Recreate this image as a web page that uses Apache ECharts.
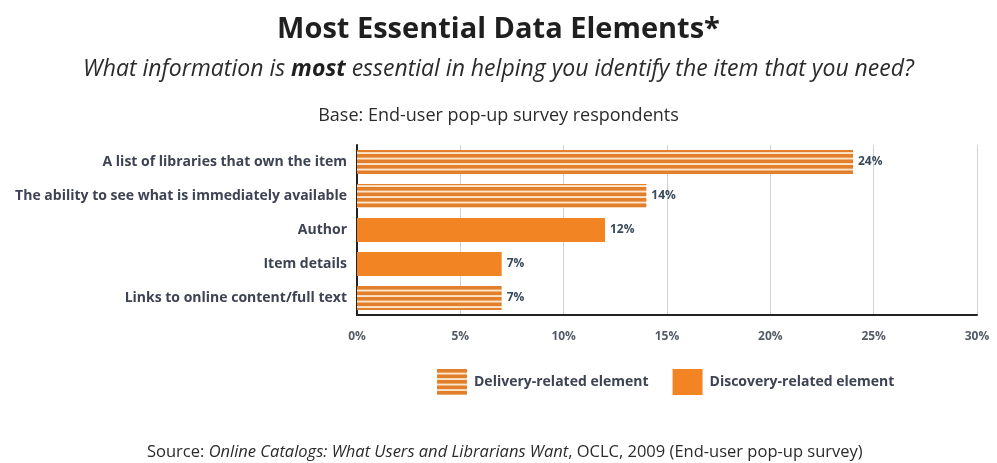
<!DOCTYPE html>
<html>
<head>
<meta charset="utf-8">
<script src="https://cdn.jsdelivr.net/npm/echarts@6/dist/echarts.min.js"></script>
<style>
  html, body { margin: 0; padding: 0; background: #fff; }
  #chart { width: 997px; height: 463px; }
</style>
</head>
<body>
<div id="chart"></div>
<script>
// Survey answers, listed top to bottom
const categories = [
  'A list of libraries that own the item',
  'The ability to see what is immediately available',
  'Author',
  'Item details',
  'Links to online content/full text'
];
// Share of respondents (%) per element type; null where the element belongs to the other type
const deliveryValues = [24, 14, null, null, 7];
const discoveryValues = [null, null, 12, 7, null];
const tickValues = [0, 5, 10, 15, 20, 25, 30];

const ORANGE = '#F28424';
const STRIPE_DARK = '#E17F2C';
const STRIPE_LIGHT = '#FCE6CB';

// Horizontal stripe fill used for delivery-related bars
function stripePattern() {
  const c = document.createElement('canvas');
  c.width = 8; c.height = 11;
  const g = c.getContext('2d');
  g.fillStyle = STRIPE_LIGHT;
  g.fillRect(0, 0, 8, 11);
  g.fillStyle = STRIPE_DARK;
  g.fillRect(0, 0, 8, 3.6);
  g.fillRect(0, 5.5, 8, 3.6);
  return { image: c, repeat: 'repeat' };
}

const FONT = 'Open Sans';
const TEXT = '#2b2b2b';
const LABEL = '#3d4352';
const chart = echarts.init(document.getElementById('chart'));
chart.setOption({
  backgroundColor: '#fff',
  animation: false,
  title: [
    {
      text: 'Most Essential Data Elements*',
      left: 'center', top: 10,
      textStyle: { fontFamily: FONT, fontSize: 29, fontWeight: 'bold', color: '#1f1f1f' }
    },
    {
      text: '{a|What information is }{b|most}{a| essential in helping you identify the item that you need?}',
      left: 'center', top: 53,
      textStyle: {
        fontWeight: 'normal',
        rich: {
          a: { fontFamily: FONT, fontSize: 23, fontStyle: 'italic', fontWeight: 'normal', color: TEXT },
          b: { fontFamily: FONT, fontSize: 23, fontStyle: 'italic', fontWeight: 'bold', color: '#1f1f1f' }
        }
      }
    },
    {
      text: 'Base: End-user pop-up survey respondents',
      left: 'center', top: 102,
      textStyle: { fontFamily: FONT, fontSize: 18, fontWeight: 'normal', color: TEXT }
    },
    {
      text: '{n|Source: }{i|Online Catalogs: What Users and Librarians Want}{n|, OCLC, 2009 (End-user pop-up survey)}',
      left: 142, top: 439,
      textStyle: {
        fontWeight: 'normal',
        rich: {
          n: { fontFamily: FONT, fontSize: 16.5, fontWeight: 'normal', color: TEXT },
          i: { fontFamily: FONT, fontSize: 16.5, fontStyle: 'italic', fontWeight: 'normal', color: TEXT }
        }
      }
    }
  ],
  legend: {
    left: 432, top: 364,
    icon: 'rect',
    itemWidth: 30, itemHeight: 26, itemGap: 24,
    textStyle: { fontFamily: FONT, fontSize: 14, fontWeight: 'bold', color: LABEL, padding: [0, 0, 0, 2] },
    data: ['Delivery-related element', 'Discovery-related element']
  },
  grid: { left: 357, right: 20, top: 145, height: 170, containLabel: false },
  xAxis: {
    type: 'value', min: 0, max: 30, interval: 5,
    axisLine: { show: true, lineStyle: { color: '#222', width: 2 } },
    axisTick: { show: false },
    splitLine: { show: true, lineStyle: { color: '#cfd3d8', width: 1 } },
    axisLabel: {
      margin: 16, fontFamily: FONT, fontSize: 12, fontWeight: 'bold', color: '#555b66',
      formatter: v => tickValues.includes(v) ? v + '%' : ''
    }
  },
  yAxis: {
    type: 'category', data: categories, inverse: true,
    axisLine: { show: true, lineStyle: { color: '#222', width: 2 } },
    axisTick: { show: false },
    axisLabel: { margin: 10, fontFamily: FONT, fontSize: 14, fontWeight: 'bold', color: LABEL }
  },
  series: [
    {
      name: 'Delivery-related element', type: 'bar', stack: 'all', barWidth: 24,
      data: deliveryValues,
      itemStyle: { color: stripePattern() },
      label: { show: true, position: 'right', distance: 5, formatter: p => p.value + '%',
               fontFamily: FONT, fontSize: 12, fontWeight: 'bold', color: '#3a4a5a' }
    },
    {
      name: 'Discovery-related element', type: 'bar', stack: 'all', barWidth: 24,
      data: discoveryValues,
      itemStyle: { color: ORANGE },
      label: { show: true, position: 'right', distance: 5, formatter: p => p.value + '%',
               fontFamily: FONT, fontSize: 12, fontWeight: 'bold', color: '#3a4a5a' }
    }
  ]
});
</script>
</body>
</html>
